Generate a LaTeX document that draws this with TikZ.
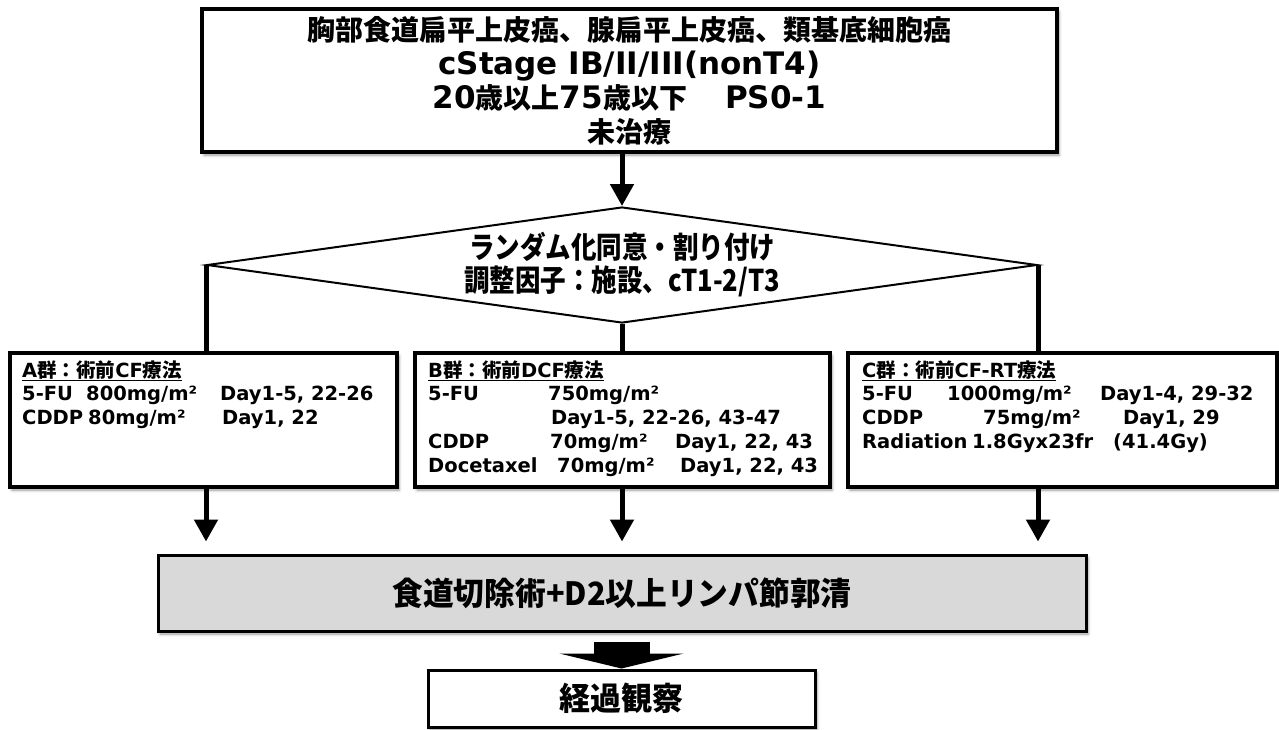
\documentclass[tikz,border=0pt]{standalone}
\usepackage{fontspec}
\setmainfont{DejaVu Sans}
\newfontfamily\jp{Noto Sans CJK JP}
\usetikzlibrary{arrows.meta,shapes.geometric,shadows.blur,calc}
\newcommand{\J}[1]{{\jp #1}}
\newcommand{\BL}[1]{{\fontsize{31}{34}\selectfont #1}}
\definecolor{boxgray}{RGB}{217,217,217}
\tikzset{
 box/.style={draw=black, line width=3.5pt, fill=white, inner sep=0pt,
   blur shadow={shadow xshift=2pt, shadow yshift=-3pt, shadow blur radius=3pt, shadow opacity=40}},
 conn/.style={line width=5pt},
 arr/.style={-{Triangle[width=23pt,length=22pt]}},
 gtext/.style={anchor=base west, inner sep=0pt, font=\fontsize{19.5}{23}\selectfont\bfseries},
}
\begin{document}
\begin{tikzpicture}[x=1pt,y=-1pt]
\useasboundingbox (0,0) rectangle (1279,729);

% boxes
\node[box, minimum width=855pt, minimum height=143pt, align=center,
  font=\fontsize{28}{34}\selectfont\bfseries] (top) at (629.5,80.5)
  {\J{胸部食道扁平上皮癌、腺扁平上皮癌、類基底細胞癌}\\
   \BL{cStage IB/II/III(nonT4)}\\
   \BL{20}\J{歳以上}\BL{75}\J{歳以下}\hspace{38pt}\BL{PS0-1}\\
   \J{未治療}};

\node[draw=black, line width=2pt, diamond, aspect=7.155, fill=white, minimum width=830pt,
  minimum height=116pt, inner sep=0pt, align=center,
  font=\fontsize{30}{33}\selectfont\bfseries\jp] (dia) at (622,265)
  {\scalebox{0.85}[1]{ランダム化同意・割り付け}\\
   \scalebox{0.85}[1]{調整因子：施設、cT1-2/T3}};

\node[box, minimum width=387pt, minimum height=134pt] (A) at (203.5,420) {};
\node[box, minimum width=415pt, minimum height=134pt] (B) at (622.5,420) {};
\node[box, minimum width=429pt, minimum height=134pt] (C) at (1062.5,420) {};

\node[box, fill=boxgray, line width=3pt, minimum width=928pt, minimum height=76pt,
  font=\fontsize{32}{36}\selectfont\bfseries\jp] (surg) at (622,593)
  {\scalebox{0.96}[1]{食道切除術+D2以上リンパ節郭清}};

\node[box, line width=3pt, minimum width=387pt, minimum height=57pt,
  font=\fontsize{32}{36}\selectfont\bfseries\jp] (obs) at (621.5,698.5)
  {\scalebox{0.97}[1]{経過観察}};

% connectors
\draw[conn, arr] (top.south -| dia.north) -- (dia.north);
\draw[conn] (dia.west) -- (dia.west |- A.north);
\draw[conn] (dia.south) -- (dia.south |- B.north);
\draw[conn] (dia.east) -- (dia.east |- C.north);
\draw[conn, arr] (dia.west |- A.south) -- ($(surg.north -| dia.west)+(0,-12)$);
\draw[conn, arr] (dia.south |- B.south) -- ($(surg.north -| dia.south)+(0,-12)$);
\draw[conn, arr] (dia.east |- C.south) -- ($(surg.north -| dia.east)+(0,-12)$);
\draw[line width=56pt, -{Triangle[width=124pt,length=15pt]}]
  ($(surg.south -| obs.north)+(0,9)$) -- (obs.north);

% group A text
\node[gtext] (a1) at (22,377) {\underline{A\J{群：術前}CF\J{療法}}};
\node[gtext] (a2) at (22,400) {\makebox[64pt][l]{5-FU}\makebox[134pt][l]{800mg/m²}Day1-5, 22-26};
\node[gtext] (a3) at (22,424) {\makebox[66pt][l]{CDDP}\makebox[134pt][l]{80mg/m²}Day1, 22};

% group B text
\node[gtext] (b1) at (428,377) {\underline{B\J{群：術前}DCF\J{療法}}};
\node[gtext] (b2) at (428,400) {\makebox[120pt][l]{5-FU}750mg/m²};
\node[gtext] (b3) at (551,424) {Day1-5, 22-26, 43-47};
\node[gtext] (b4) at (428,448) {\makebox[122pt][l]{CDDP}\makebox[125pt][l]{70mg/m²}Day1, 22, 43};
\node[gtext] (b5) at (428,472) {\makebox[129pt][l]{Docetaxel}\makebox[123pt][l]{70mg/m²}Day1, 22, 43};

% group C text
\node[gtext] (c1) at (862,377) {\underline{C\J{群：術前}CF-RT\J{療法}}};
\node[gtext] (c2) at (862,400) {\makebox[85pt][l]{5-FU}\makebox[153pt][l]{1000mg/m²}Day1-4, 29-32};
\node[gtext] (c3) at (862,424) {\makebox[121pt][l]{CDDP}\makebox[140pt][l]{75mg/m²}Day1, 29};
\node[gtext] (c4) at (862,448) {\makebox[110pt][l]{Radiation}\makebox[141pt][l]{1.8Gyx23fr}(41.4Gy)};
\end{tikzpicture}
\end{document}
